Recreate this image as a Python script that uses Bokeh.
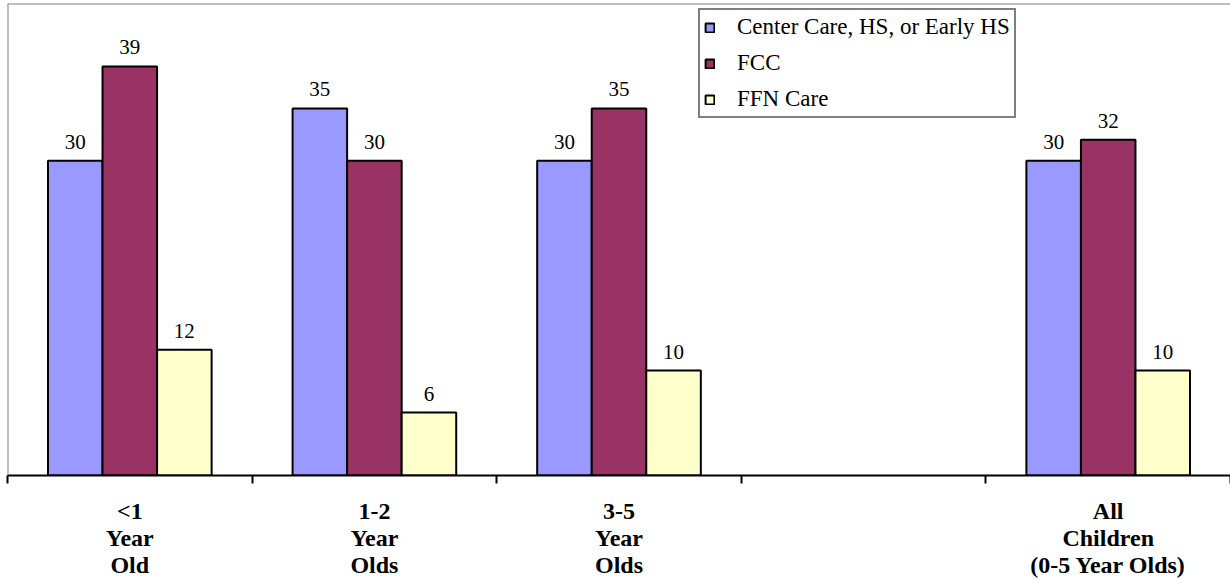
from bokeh.plotting import figure
from bokeh.models import (ColumnDataSource, Range1d, LinearAxis, FixedTicker,
                          Legend, LegendItem, Span)
from bokeh.transform import dodge
from bokeh.core.properties import value
from bokeh.embed import file_html
from bokeh.resources import INLINE

# ---- data ----
categories = ["<1\nYear\nOld", "1-2\nYear\nOlds", "3-5\nYear\nOlds", "",
              "All\nChildren\n(0-5 Year Olds)"]
bar_categories = ["<1\nYear\nOld", "1-2\nYear\nOlds", "3-5\nYear\nOlds",
                  "All\nChildren\n(0-5 Year Olds)"]
series_names = ["Center Care, HS, or Early HS", "FCC", "FFN Care"]
center_care = [30, 35, 30, 30]
fcc = [39, 30, 35, 32]
ffn_care = [12, 6, 10, 10]
colors = ["#9999FF", "#993366", "#FFFFCC"]

Y_MAX = 45
SERIF = "'Liberation Serif', 'Times New Roman', serif"

# category slot centres on a numeric axis (one slot per category, incl. the empty one)
slot_center = {c: i + 0.5 for i, c in enumerate(categories)}

source = ColumnDataSource(dict(
    x=[slot_center[c] for c in bar_categories],
    center=center_care, fcc=fcc, ffn=ffn_care,
    center_lbl=[str(v) for v in center_care],
    fcc_lbl=[str(v) for v in fcc],
    ffn_lbl=[str(v) for v in ffn_care],
))

p = figure(width=1230, height=586, x_range=Range1d(0, len(categories)),
           y_range=Range1d(0, Y_MAX), output_backend="svg", toolbar_location=None,
           x_axis_location=None, y_axis_location=None,
           min_border_left=7, min_border_right=0, min_border_top=3, min_border_bottom=111)
p.grid.grid_line_color = None
p.outline_line_color = None
p.background_fill_color = "white"
p.border_fill_color = "white"

bw = 0.223
offsets = [-bw, 0.0, bw]
fields = ["center", "fcc", "ffn"]
renderers = []
for off, f, c in zip(offsets, fields, colors):
    r = p.vbar(x=dodge("x", off), top=f, bottom=0, width=bw,
               source=source, fill_color=c, line_color="black", line_width=2)
    renderers.append(r)
    p.text(x=dodge("x", off), y=f, text=f + "_lbl", source=source,
           text_align="center", text_baseline="bottom", y_offset=-12,
           text_font=value(SERIF), text_font_size="21px", text_color="black")

# border lines (left and top, grey)
p.add_layout(Span(location=0, dimension="height", line_color="#808080", line_width=2))
p.add_layout(Span(location=Y_MAX, dimension="width", line_color="#808080", line_width=2))

# axis with ticks at category boundaries
bounds = list(range(len(categories) + 1))
tick_axis = LinearAxis(ticker=FixedTicker(ticks=bounds),
                       axis_line_color="black", axis_line_width=2,
                       major_tick_line_color="black", major_tick_line_width=2,
                       major_tick_in=0, major_tick_out=8,
                       minor_tick_line_color=None,
                       major_label_text_font_size="0px", major_label_standoff=0,
                       major_label_overrides={b: "" for b in bounds})
p.add_layout(tick_axis, "below")

label_ticks = [slot_center[c] for c in bar_categories]
label_axis = LinearAxis(ticker=FixedTicker(ticks=label_ticks),
                        major_label_overrides={slot_center[c]: c for c in bar_categories},
                        axis_line_color=None, major_tick_line_color=None,
                        minor_tick_line_color=None,
                        major_label_text_font=SERIF,
                        major_label_text_font_style="bold",
                        major_label_text_font_size="24px",
                        major_label_text_line_height=1.04,
                        major_label_text_color="black",
                        major_label_standoff=8)
p.add_layout(label_axis, "below")

legend = Legend(items=[LegendItem(label=n, renderers=[r]) for n, r in zip(series_names, renderers)],
                location=(691, 357),
                border_line_color="black", border_line_width=2,
                background_fill_color="white", background_fill_alpha=1.0,
                label_text_font=SERIF, label_text_font_size="23px", label_text_color="black",
                glyph_width=11, glyph_height=11, label_standoff=22,
                padding=4, spacing=10, label_height=24, margin=0)
p.add_layout(legend)

open("out.html", "w").write(file_html(p, INLINE))
